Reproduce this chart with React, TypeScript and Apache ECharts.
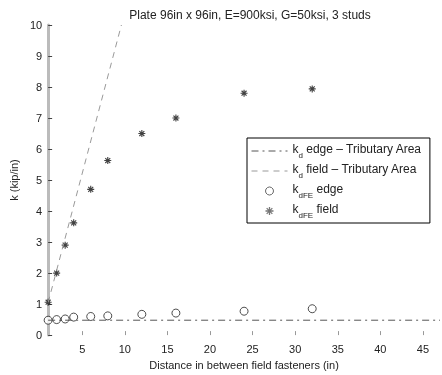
import React, { useEffect, useRef } from "react";
import * as echarts from "echarts";

const spacing = [1, 2, 3, 4, 6, 8, 12, 16, 24, 32];
const kdFEedge = [0.48, 0.5, 0.52, 0.58, 0.6, 0.62, 0.67, 0.71, 0.77, 0.85];
const kdFEfield = [1.06, 2.0, 2.9, 3.62, 4.7, 5.63, 6.5, 7.0, 7.8, 7.94];
const kdEdgeTrib: [number, number][] = [[1, 0.48], [47, 0.48]];
const kdFieldTrib: [number, number][] = [[1, 1.05], [9.6, 10]];
const xTicks = [5, 10, 15, 20, 25, 30, 35, 40, 45];

const names = [
  "kd edge - Tributary Area",
  "kd field - Tributary Area",
  "kdFE edge",
  "kdFE field",
];
const legendRich: Record<string, string> = {
  [names[0]]: "{k|k}{s|d}{t| edge – Tributary Area}",
  [names[1]]: "{k|k}{s|d}{t| field – Tributary Area}",
  [names[2]]: "{k|k}{s|dFE}{t| edge}",
  [names[3]]: "{k|k}{s|dFE}{t| field}",
};

const asterisk =
  "path://M-0.8,-5L0.8,-5L0.8,5L-0.8,5Z M-5,-0.8L5,-0.8L5,0.8L-5,0.8Z M-2.97,-4.1L4.1,2.97L2.97,4.1L-4.1,-2.97Z M-4.1,2.97L2.97,-4.1L4.1,-2.97L-2.97,4.1Z";

const FONT = "'Liberation Sans', Arial, sans-serif";

export default function App() {
  const ref = useRef<HTMLDivElement>(null);
  useEffect(() => {
    if (!ref.current) return;
    const chart = echarts.init(ref.current, null, { renderer: "svg" });
    chart.setOption({
      animation: false,
      textStyle: { fontFamily: FONT },
      title: {
        text: "Plate 96in x 96in, E=900ksi, G=50ksi, 3 studs",
        left: 245,
        top: 4,
        textAlign: "center",
        textStyle: { fontSize: 12, fontWeight: "normal", color: "#222", fontFamily: FONT },
      },
      grid: { left: 43, right: 2, top: 25, bottom: 35 },
      legend: {
        orient: "vertical",
        left: 247,
        top: 138,
        padding: [5, 8, 4, 4],
        itemWidth: 36,
        itemHeight: 8,
        itemGap: 4,
        borderColor: "#000",
        borderWidth: 1,
        backgroundColor: "#fff",
        data: [
          { name: names[0], itemStyle: { opacity: 0 }, lineStyle: { width: 1, color: "#555", type: [7, 4, 2, 4] } },
          { name: names[1], itemStyle: { opacity: 0 }, lineStyle: { width: 1, color: "#999", type: [6, 5] } },
          { name: names[2], itemStyle: { borderWidth: 1, borderColor: "#444", color: "#fff" } },
          { name: names[3], itemStyle: { color: "#555" } },
        ],
        formatter: (n: string) => legendRich[n] || n,
        textStyle: {
          fontFamily: FONT,
          color: "#222",
          rich: {
            k: { fontSize: 12, verticalAlign: "top", lineHeight: 16, fontFamily: FONT, color: "#222" },
            s: { fontSize: 8, verticalAlign: "bottom", lineHeight: 16, fontFamily: FONT, color: "#222" },
            t: { fontSize: 12, verticalAlign: "top", lineHeight: 16, fontFamily: FONT, color: "#222" },
          },
        },
      },
      xAxis: {
        type: "value",
        min: 1,
        max: 47,
        name: "Distance in between field fasteners (in)",
        nameLocation: "middle",
        nameGap: 19,
        nameTextStyle: { fontSize: 11, color: "#222", fontFamily: FONT },
        axisLine: { show: false },
        splitLine: { show: false },
        axisTick: { show: true, inside: true, length: 4, customValues: xTicks, lineStyle: { color: "#999" } },
        axisLabel: { customValues: xTicks, fontSize: 11, color: "#222", margin: 8, fontFamily: FONT },
      },
      yAxis: {
        type: "value",
        min: 0,
        max: 10,
        interval: 1,
        name: "k (kip/in)",
        nameLocation: "middle",
        nameGap: 16,
        nameTextStyle: { fontSize: 11, color: "#222", fontFamily: FONT },
        axisLine: { show: true, lineStyle: { color: "#bbb", width: 3 } },
        splitLine: { show: false },
        axisTick: { show: true, inside: true, length: 4, lineStyle: { color: "#444" } },
        axisLabel: { fontSize: 11, color: "#222", margin: 6, fontFamily: FONT },
      },
      series: [
        {
          name: names[0],
          type: "line",
          data: kdEdgeTrib,
          showSymbol: false,
          symbol: "none",
          lineStyle: { color: "#555", width: 1, type: [7, 4, 2, 4] },
          itemStyle: { color: "#555" },
        },
        {
          name: names[1],
          type: "line",
          data: kdFieldTrib,
          showSymbol: false,
          symbol: "none",
          lineStyle: { color: "#999", width: 1, type: [6, 5] },
          itemStyle: { color: "#999" },
        },
        {
          name: names[2],
          type: "scatter",
          data: spacing.map((x, i) => [x, kdFEedge[i]]),
          symbol: "circle",
          symbolSize: 8,
          itemStyle: { color: "#fff", borderColor: "#222", borderWidth: 1 },
        },
        {
          name: names[3],
          type: "scatter",
          data: spacing.map((x, i) => [x, kdFEfield[i]]),
          symbol: asterisk,
          symbolSize: 7,
          itemStyle: { color: "#111" },
        },
      ],
    });
    return () => chart.dispose();
  }, []);
  return <div ref={ref} style={{ position: "fixed", left: 0, top: 0, width: 442, height: 375 }} />;
}
